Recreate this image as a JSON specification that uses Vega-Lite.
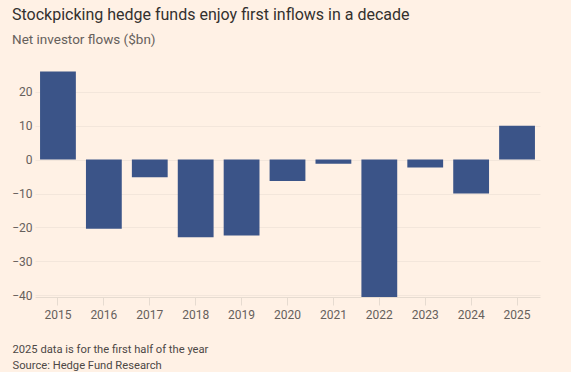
{
  "$schema": "https://vega.github.io/schema/vega-lite/v6.json",
  "width": 505,
  "height": 229,
  "autosize": {"type": "none"},
  "padding": {"left": 35, "top": 68, "right": 31, "bottom": 75},
  "background": "#fff1e5",
  "config": {"view": {"stroke": null}, "font": "Roboto"},
  "title": {
    "text": "Stockpicking hedge funds enjoy first inflows in a decade",
    "subtitle": "Net investor flows ($bn)",
    "anchor": "start",
    "frame": "group",
    "dx": -23,
    "offset": 22,
    "fontSize": 16,
    "fontWeight": "normal",
    "color": "#33302e",
    "subtitleFontSize": 13.5,
    "subtitleColor": "#66605c",
    "subtitlePadding": 10
  },
  "data": {
    "values": [
      {"year": "2015", "flow": 26},
      {"year": "2016", "flow": -20.4},
      {"year": "2017", "flow": -5.2},
      {"year": "2018", "flow": -22.9},
      {"year": "2019", "flow": -22.4},
      {"year": "2020", "flow": -6.3},
      {"year": "2021", "flow": -1.2},
      {"year": "2022", "flow": -40.5},
      {"year": "2023", "flow": -2.3},
      {"year": "2024", "flow": -10},
      {"year": "2025", "flow": 10}
    ]
  },
  "mark": {"type": "bar", "color": "#3b5488", "clip": true},
  "encoding": {
    "x": {
      "field": "year",
      "type": "ordinal",
      "scale": {"paddingInner": 0.22, "paddingOuter": 0.11},
      "axis": {
        "labelAngle": 0,
        "labelFontSize": 12,
        "labelColor": "#66605c",
        "labelPadding": 4,
        "domainColor": "#e6dbd0",
        "tickColor": "#e6dbd0",
        "tickSize": 8,
        "title": ["2025 data is for the first half of the year", "Source: Hedge Fund Research"],
        "titleAnchor": "start",
        "titleAlign": "left",
        "titleBaseline": "top",
        "titleX": -23,
        "titleY": 46,
        "titleLineHeight": 16,
        "titleFontSize": 11.2,
        "titleFontWeight": "normal",
        "titleColor": "#4d4845"
      }
    },
    "y": {
      "field": "flow",
      "type": "quantitative",
      "scale": {"domain": [-40.5, 27], "nice": false},
      "axis": {
        "title": null,
        "values": [-40, -30, -20, -10, 0, 10, 20],
        "domain": false,
        "ticks": false,
        "labelPadding": 3,
        "labelFontSize": 12,
        "labelColor": "#66605c",
        "gridColor": "#f3e6db"
      }
    }
  }
}
